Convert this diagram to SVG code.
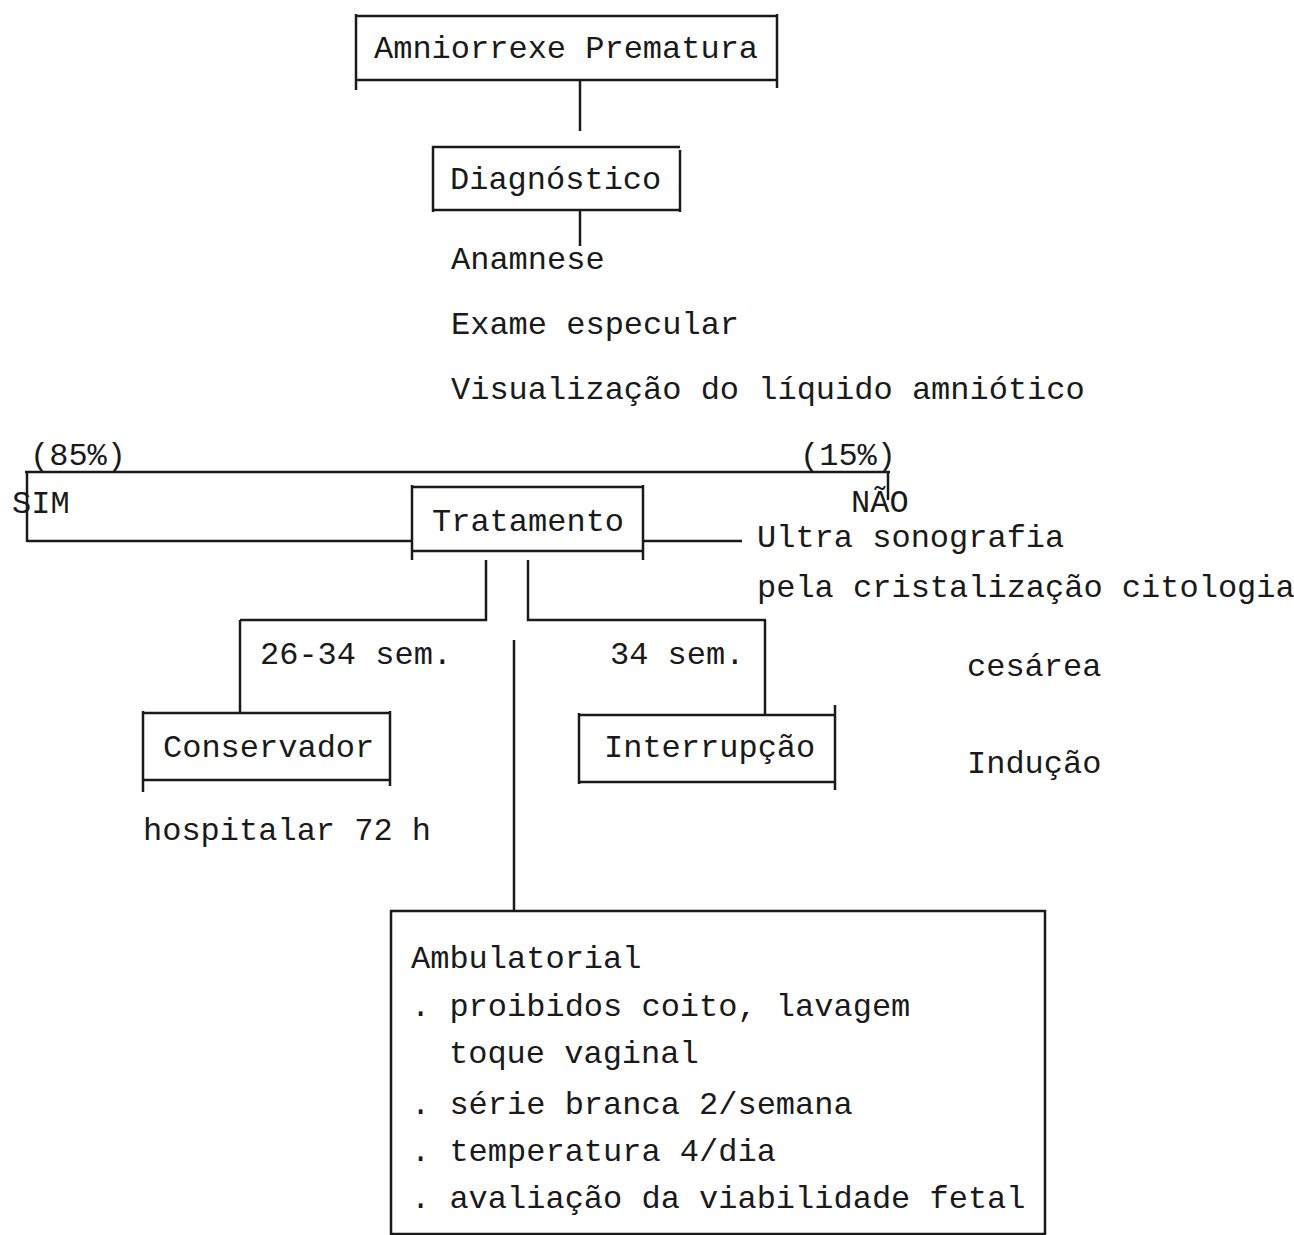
<svg xmlns="http://www.w3.org/2000/svg" width="1294" height="1235" viewBox="0 0 1294 1235">
<style>
text{font-family:"Liberation Mono","DejaVu Sans Mono",monospace;font-size:32px;fill:#1a1a1a}
line{stroke:#1a1a1a;stroke-width:2.5;fill:none}
</style>
<rect width="1294" height="1235" fill="#fff"/>
<g id="connectors">
<line x1="580" y1="80" x2="580" y2="131"/>
<line x1="580" y1="210" x2="580" y2="246"/>
<line x1="25" y1="472" x2="890" y2="472"/>
<line x1="27" y1="472" x2="27" y2="542"/>
<line x1="888" y1="472" x2="888" y2="500"/>
<line x1="27" y1="541" x2="412" y2="541"/>
<line x1="643" y1="541" x2="742" y2="541"/>
<line x1="486" y1="560" x2="486" y2="621"/>
<line x1="528" y1="560" x2="528" y2="621"/>
<line x1="240" y1="620" x2="487" y2="620"/>
<line x1="527" y1="620" x2="766" y2="620"/>
<line x1="240" y1="620" x2="240" y2="713"/>
<line x1="765" y1="620" x2="765" y2="715"/>
<line x1="514" y1="640" x2="514" y2="911"/>
</g>
<g id="amniorrexe">
<line x1="355" y1="16" x2="777" y2="16"/>
<line x1="355" y1="80" x2="777" y2="80"/>
<line x1="356" y1="14" x2="356" y2="90"/>
<line x1="777" y1="14" x2="777" y2="88"/>
<text x="374" y="58">Amniorrexe Prematura</text>
</g>
<g id="diagnostico">
<line x1="432" y1="147" x2="680" y2="147"/>
<line x1="432" y1="210" x2="680" y2="210"/>
<line x1="433" y1="146" x2="433" y2="212"/>
<line x1="680" y1="150" x2="680" y2="212"/>
<text x="450" y="189">Diagnóstico</text>
</g>
<g id="diagnostico-itens">
<text x="451" y="269">Anamnese</text>
<text x="451" y="334">Exame especular</text>
<text x="451" y="399">Visualização do líquido amniótico</text>
</g>
<g id="ramos">
<text x="30" y="465">(85%)</text>
<text x="800" y="465">(15%)</text>
<text x="12" y="513">SIM</text>
<text x="851" y="512">NÃO</text>
</g>
<g id="tratamento">
<line x1="412" y1="487" x2="643" y2="487"/>
<line x1="412" y1="551" x2="643" y2="551"/>
<line x1="412" y1="485" x2="412" y2="560"/>
<line x1="643" y1="485" x2="643" y2="560"/>
<text x="432" y="531">Tratamento</text>
</g>
<g id="nao-itens">
<text x="757" y="547">Ultra sonografia</text>
<text x="757" y="597">pela cristalização citologia</text>
</g>
<g id="idades">
<text x="260" y="664">26-34 sem.</text>
<text x="610" y="664">34 sem.</text>
</g>
<g id="conservador">
<line x1="142" y1="713" x2="390" y2="713"/>
<line x1="142" y1="780" x2="390" y2="780"/>
<line x1="143" y1="711" x2="143" y2="792"/>
<line x1="390" y1="711" x2="390" y2="786"/>
<text x="163" y="757">Conservador</text>
</g>
<g id="hospitalar">
<text x="143" y="840">hospitalar 72 h</text>
</g>
<g id="interrupcao">
<line x1="578" y1="715" x2="835" y2="715"/>
<line x1="578" y1="782" x2="835" y2="782"/>
<line x1="579" y1="713" x2="579" y2="784"/>
<line x1="835" y1="705" x2="835" y2="790"/>
<text x="604" y="757">Interrupção</text>
</g>
<g id="interrupcao-itens">
<text x="967" y="676">cesárea</text>
<text x="967" y="773">Indução</text>
</g>
<g id="ambulatorial">
<line x1="390" y1="911" x2="1046" y2="911"/>
<line x1="390" y1="1234" x2="1046" y2="1234"/>
<line x1="391" y1="910" x2="391" y2="1235"/>
<line x1="1045" y1="910" x2="1045" y2="1235"/>
<text x="411" y="968">Ambulatorial</text>
<text x="411" y="1016">. proibidos coito, lavagem</text>
<text x="449" y="1063">toque vaginal</text>
<text x="411" y="1114">. série branca 2/semana</text>
<text x="411" y="1161">. temperatura 4/dia</text>
<text x="411" y="1208">. avaliação da viabilidade fetal</text>
</g>
</svg>
